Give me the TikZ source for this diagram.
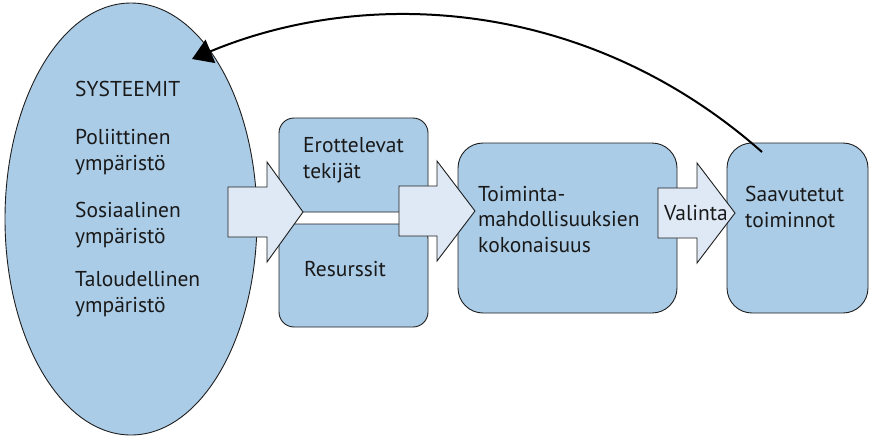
\documentclass[tikz,border=0pt]{standalone}
\usepackage{fontspec}
\setmainfont{PT Sans}
\usetikzlibrary{shapes.geometric,arrows.meta}

\definecolor{boxblue}{RGB}{171,204,231}
\definecolor{arrowblue}{RGB}{222,233,245}
\definecolor{edgegray}{RGB}{30,30,30}

\begin{document}
\begin{tikzpicture}[x=1pt,y=-1pt,
    box/.style={draw=edgegray, fill=boxblue, line width=0.9pt, rounded corners=#1, inner sep=0pt},
    blockarrow/.style={draw=edgegray, fill=arrowblue, line width=0.9pt, line join=miter},
    label/.style={anchor=base west, align=left, inner sep=0pt, font=\fontsize{21.5}{25.5}\selectfont, text=black!90}]

    \useasboundingbox (0,0) rectangle (869,437);

    % Draw the systems ellipse
    \node[ellipse, draw=edgegray, fill=boxblue, line width=0.9pt, minimum width=252pt, minimum height=432pt, inner sep=0pt] (systeemit) at (131,219) {};

    % Texts in the ellipse (anchored at the last baseline)
    \node[label] (otsikko) at (75,96) {SYSTEEMIT};
    \node[label] (poliit) at (75,170) {Poliittinen\\ympäristö};
    \node[label] (sosiaal) at (75,243) {Sosiaalinen\\ympäristö};
    \node[label] (talous) at (75,312) {Taloudellinen\\ympäristö};

    % Draw the boxes
    \node[box=15pt, minimum width=149pt, minimum height=94pt] (tekijat) at (353.5,165) {};
    \node[box=15pt, minimum width=149pt, minimum height=103pt] (resurssit) at (353.5,275.5) {};
    \node[box=25pt, minimum width=219pt, minimum height=170pt] (kokonaisuus) at (567.5,228) {};
    \node[box=25pt, minimum width=141pt, minimum height=170pt] (toiminnot) at (797.5,228) {};

    \node[label] (tekijatteksti) at (303,178) {Erottelevat\\tekijät};
    \node[label] (resurssiteksti) at (304,276) {Resurssit};
    \node[label] (kokonaisuusteksti) at (478,252) {Toiminta-\\mahdollisuuksien\\kokonaisuus};
    \node[label] (toiminnotteksti) at (745,227) {Saavutetut\\toiminnot};

    % Block arrows between the stages
    \draw[blockarrow] (228,187) -- (267,187) -- (267,162) -- (303,212) -- (267,262) -- (267,237) -- (228,237) -- cycle;
    \draw[blockarrow] (399,186) -- (437,186) -- (437,161) -- (475,211) -- (437,261) -- (437,236) -- (399,236) -- cycle;
    \draw[blockarrow] (658,188) -- (697,188) -- (697,163) -- (735,213) -- (697,263) -- (697,238) -- (658,238) -- cycle;

    \node[label] (valinta) at (664,220) {Valinta};

    % Feedback arrow back to the systems
    \coordinate (lahto) at (762,152);
    \coordinate (paluu) at (192,59);
    \draw[line width=2pt, -{Triangle[length=20pt,width=25pt]}] (lahto) .. controls (590,0) and (370,-15) .. (paluu);

\end{tikzpicture}
\end{document}
